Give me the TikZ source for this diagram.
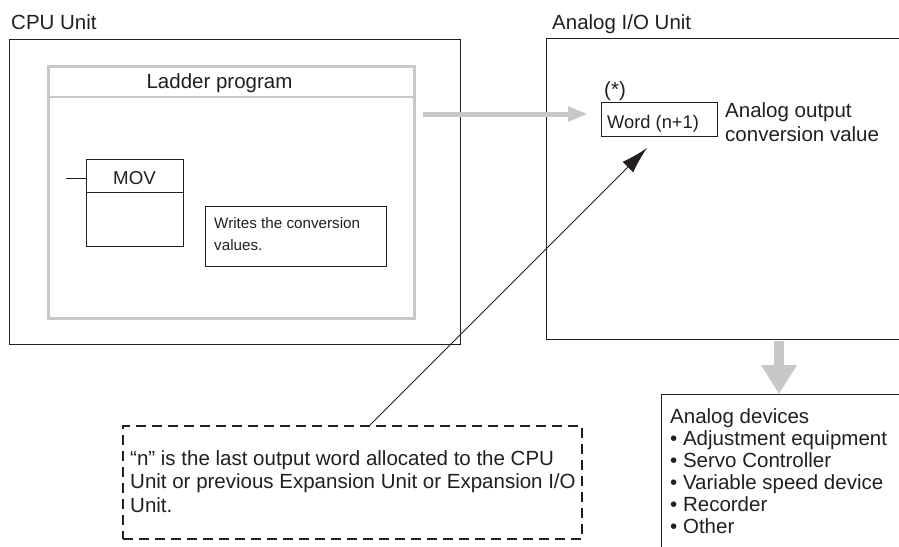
\documentclass[tikz,border=0pt]{standalone}
\usepackage{fontspec}
\setmainfont{Liberation Sans}
\usetikzlibrary{arrows.meta}
\definecolor{lg}{HTML}{C8C8C8}
\definecolor{ink}{HTML}{231F20}
\begin{document}
\begin{tikzpicture}[x=1pt,y=-1pt,
  box/.style={draw=ink, line width=1.2pt, inner sep=0pt, anchor=north west},
  thinbox/.style={draw=ink, line width=1pt, inner sep=0pt, anchor=north west},
  graybox/.style={draw=lg, line width=2.6pt, inner sep=0pt, anchor=north west},
  dashbox/.style={draw=ink, line width=2.3pt, dash pattern=on 10pt off 6pt, inner sep=0pt, anchor=north west},
  lbl/.style={inner sep=0pt, anchor=base west, text=ink, align=left, font=\fontsize{20.5}{23.5}\selectfont},
  lblc/.style={inner sep=0pt, anchor=base, text=ink, font=\fontsize{20.5}{23.5}\selectfont},
  grayarrow/.style={draw=lg, line width=5pt, -{Triangle[length=20pt,width=14pt]}},
  downarrow/.style={draw=lg, line width=10pt, -{Triangle[length=29pt,width=34pt]}},
  blackarrow/.style={draw=ink, line width=1pt, -{Latex[length=27pt,width=15pt]}}
]
\useasboundingbox (0,0) rectangle (899,546);
\clip (0,0) rectangle (899,546);
\fill[white] (0,0) rectangle (899,546);

% CPU unit
\node[lbl] (cpulbl) at (11,29) {CPU Unit};
\node[box, minimum width=451pt, minimum height=305pt] (cpu) at (9,39) {};
\node[graybox, minimum width=366pt, minimum height=252pt] (ladder) at (47,65) {};
\draw[lg, line width=2.6pt] (ladder.west |- 0,97) coordinate (hl) -- (ladder.east |- 0,97) coordinate (hr);
\node[lblc] (ladlbl) at (219.5,88) {Ladder program};

% MOV instruction
\node[thinbox, minimum width=97pt, minimum height=87pt] (mov) at (86,159) {};
\draw[ink, line width=1pt] (mov.west |- 0,192) coordinate (ml) -- (mov.east |- 0,192) coordinate (mr);
\coordinate (rail) at (66,178);
\draw[ink, line width=1pt] (rail) -- (mov.west |- rail);
\node[lblc, font=\fontsize{18.7}{22}\selectfont] (movlbl) at (134.5,184.7) {MOV};
\node[thinbox, minimum width=181pt, minimum height=60pt] (wbox) at (205,206) {};
% base anchor of a multi-line node = baseline of its last line
\node[lbl, font=\fontsize{15.2}{22}\selectfont] (wtext) at (214,250) {Writes the conversion\\values.};

% Analog I/O unit
\node[lbl] (aiolbl) at (552,29) {Analog I/O Unit};
\node[box, minimum width=380pt, minimum height=301pt] (aio) at (546,38) {};
\node[lbl] (star) at (604,96) {(*)};
\node[thinbox, minimum width=116pt, minimum height=34pt] (word) at (601,102) {};
\node[lbl, font=\fontsize{18.3}{22}\selectfont] (wordlbl) at (607,128) {Word (n+1)};
\node[lbl, font=\fontsize{20.5}{24}\selectfont] (aotext) at (725,141) {Analog output\\conversion value};

% transfer arrow
\coordinate (gs) at (423,114);
\coordinate (ge) at (588,114);
\draw[grayarrow] (gs) -- (ge);

% note
\node[dashbox, minimum width=459pt, minimum height=113pt] (note) at (122,425) {};
\node[lbl, font=\fontsize{20.5}{23.5}\selectfont] (notetext) at (130,512) {“n” is the last output word allocated to the CPU\\Unit or previous Expansion Unit or Expansion I/O\\Unit.};
\coordinate (ns) at (370,425);
\coordinate (nt) at (647,148);
\draw[blackarrow] (ns) -- (nt);

% analog devices
\coordinate (ds) at (779,341);
\node[box, minimum width=260pt, minimum height=170pt] (dev) at (661,394) {};
\draw[downarrow] (ds) -- (ds |- dev.north);
\node[lbl, font=\fontsize{20.5}{22}\selectfont] (devtext) at (670,533) {Analog devices\\• Adjustment equipment\\• Servo Controller\\• Variable speed device\\• Recorder\\• Other};
\end{tikzpicture}
\end{document}
